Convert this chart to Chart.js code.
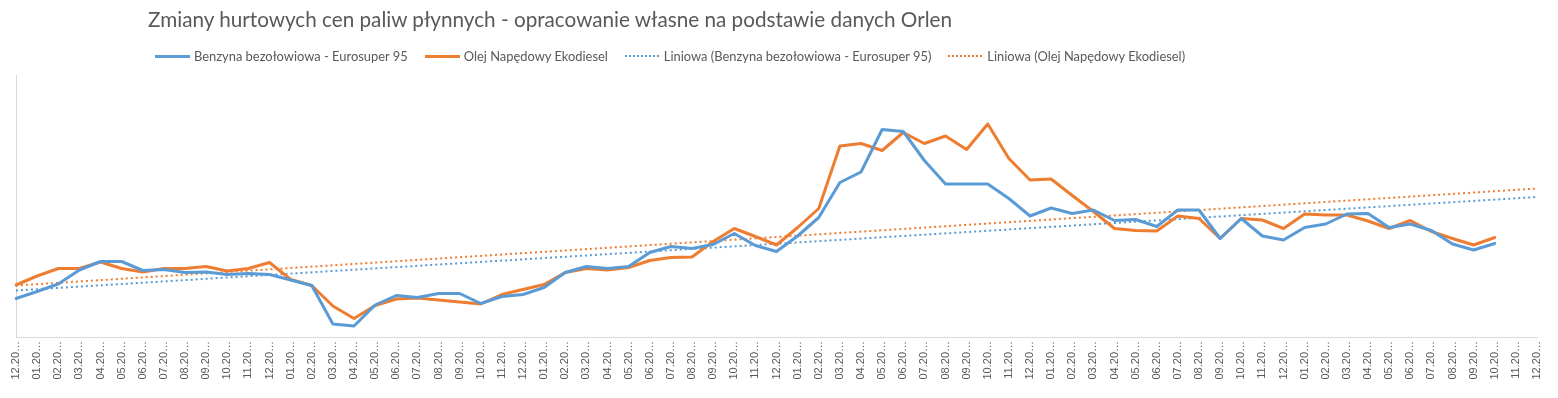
<!DOCTYPE html>
<html lang="pl">
<head>
<meta charset="utf-8">
<title>Zmiany hurtowych cen paliw płynnych</title>
<script src="https://cdn.jsdelivr.net/npm/chart.js@4/dist/chart.umd.min.js"></script>
<style>
    html, body { margin: 0; padding: 0; background: #fff; }
    #wrap { position: relative; width: 1558px; height: 398px; overflow: hidden; }
    #chart { position: absolute; left: 0; top: 0; }
    #title {
        position: absolute; left: 148px; top: 7px;
        font: 20.7px Lato, "Open Sans", sans-serif; color: #595959; white-space: nowrap;
    }
    #legend {
        position: absolute; left: 155px; top: 48px; display: flex; align-items: center;
        font: 12.9px Lato, "Open Sans", sans-serif; color: #595959; white-space: nowrap;
    }
    .item { display: flex; align-items: center; margin-right: 17px; }
    .swatch { width: 35px; height: 3px; margin-right: 4px; }
    .dots { height: 2px; }
</style>
</head>
<body>
<div id="wrap">
    <canvas id="chart" width="1558" height="398"></canvas>
    <div id="title">Zmiany hurtowych cen paliw płynnych - opracowanie własne na podstawie danych Orlen</div>
    <div id="legend"></div>
</div>
<script>
// months 12.2018 .. 12.2024 (Excel shows them cut to "12.20…")
const months = [
    '12.2018',
    '01.2019', '02.2019', '03.2019', '04.2019', '05.2019', '06.2019', '07.2019', '08.2019', '09.2019', '10.2019', '11.2019', '12.2019',
    '01.2020', '02.2020', '03.2020', '04.2020', '05.2020', '06.2020', '07.2020', '08.2020', '09.2020', '10.2020', '11.2020', '12.2020',
    '01.2021', '02.2021', '03.2021', '04.2021', '05.2021', '06.2021', '07.2021', '08.2021', '09.2021', '10.2021', '11.2021', '12.2021',
    '01.2022', '02.2022', '03.2022', '04.2022', '05.2022', '06.2022', '07.2022', '08.2022', '09.2022', '10.2022', '11.2022', '12.2022',
    '01.2023', '02.2023', '03.2023', '04.2023', '05.2023', '06.2023', '07.2023', '08.2023', '09.2023', '10.2023', '11.2023', '12.2023',
    '01.2024', '02.2024', '03.2024', '04.2024', '05.2024', '06.2024', '07.2024', '08.2024', '09.2024', '10.2024', '11.2024', '12.2024'
];

// zł/m3 (12.2018 .. 10.2024)
const benzyna = [
    3270, 3410, 3560, 3840, 4010, 4010, 3830, 3850, 3790, 3800, 3750, 3770, 3750,
    3640, 3530, 2760, 2720, 3140, 3330, 3290, 3370, 3370, 3170, 3310, 3350,
    3490, 3790, 3910, 3870, 3910, 4190, 4310, 4270, 4350, 4570, 4330, 4210,
    4520, 4890, 5590, 5800, 6650, 6610, 6030, 5560, 5560, 5560, 5270, 4920,
    5080, 4970, 5040, 4830, 4850, 4710, 5040, 5040, 4470, 4870, 4520, 4440,
    4690, 4760, 4960, 4970, 4690, 4760, 4630, 4360, 4240, 4370
];
const ekodiesel = [
    3540, 3720, 3870, 3870, 4000, 3870, 3800, 3870, 3870, 3910, 3820, 3870, 3990,
    3650, 3530, 3120, 2870, 3130, 3260, 3280, 3240, 3200, 3160, 3350, 3450,
    3550, 3790, 3870, 3840, 3890, 4030, 4090, 4100, 4410, 4670, 4510, 4340,
    4690, 5070, 6320, 6370, 6230, 6590, 6370, 6520, 6250, 6760, 6070, 5640,
    5660, 5330, 5010, 4670, 4630, 4620, 4920, 4870, 4470, 4870, 4840, 4670,
    4960, 4940, 4940, 4820, 4670, 4830, 4610, 4470, 4340, 4490
];

// linear trend lines: start (12.2018) and end (12.2024) values
const trendBenzyna = [3430, 5300];
const trendEkodiesel = [3530, 5470];

const yMin = 2500;
const yMax = 7740;

const BLUE = '#5B9BD5';
const ORANGE = '#ED7D31';

function trendSeries(ends) {
    const arr = months.map(() => null);
    arr[0] = ends[0];
    arr[months.length - 1] = ends[1];
    return arr;
}

const series = [
    { label: 'Benzyna bezołowiowa - Eurosuper 95', data: benzyna, color: BLUE, dotted: false },
    { label: 'Olej Napędowy Ekodiesel', data: ekodiesel, color: ORANGE, dotted: false },
    { label: 'Liniowa (Benzyna bezołowiowa - Eurosuper 95)', data: trendSeries(trendBenzyna), color: BLUE, dotted: true },
    { label: 'Liniowa (Olej Napędowy Ekodiesel)', data: trendSeries(trendEkodiesel), color: ORANGE, dotted: true }
];

// HTML legend (Excel style)
const legend = document.getElementById('legend');
series.forEach(s => {
    const item = document.createElement('div');
    item.className = 'item';
    const sw = document.createElement('span');
    sw.className = 'swatch' + (s.dotted ? ' dots' : '');
    sw.style.background = s.dotted
        ? `repeating-linear-gradient(90deg, ${s.color} 0 2px, transparent 2px 4px)`
        : s.color;
    item.appendChild(sw);
    const txt = document.createElement('span');
    txt.textContent = s.label;
    item.appendChild(txt);
    legend.appendChild(item);
});

const ctx = document.getElementById('chart').getContext('2d');
new Chart(ctx, {
    type: 'line',
    data: {
        labels: months,
        datasets: series.map(s => ({
            label: s.label,
            data: s.data,
            borderColor: s.color,
            backgroundColor: s.color,
            borderWidth: s.dotted ? 2 : 3,
            borderDash: s.dotted ? [2, 3] : [],
            borderCapStyle: s.dotted ? 'butt' : 'round',
            borderJoinStyle: 'round',
            tension: 0,
            pointRadius: 0,
            spanGaps: true,
            fill: false,
            order: s.dotted ? 2 : 1
        }))
    },
    options: {
        responsive: false,
        animation: false,
        devicePixelRatio: 1,
        layout: { padding: { top: 75, left: 16, right: 21, bottom: 0 } },
        plugins: {
            legend: { display: false },
            title: { display: false },
            tooltip: { enabled: false }
        },
        scales: {
            x: {
                offset: false,
                grid: { display: false, drawTicks: false },
                border: { display: true, color: '#d9d9d9', width: 1 },
                ticks: {
                    autoSkip: false,
                    maxRotation: 90,
                    minRotation: 90,
                    padding: 4,
                    color: '#595959',
                    font: { family: 'Liberation Sans', size: 11 },
                    callback: function (value) {
                        return this.getLabelForValue(value).slice(0, 5) + '…';
                    }
                },
                afterFit: scale => { scale.height = 61; }
            },
            y: {
                min: yMin,
                max: yMax,
                grid: { display: false, drawTicks: false },
                border: { display: true, color: '#d9d9d9', width: 1 },
                ticks: { display: false },
                afterFit: scale => { scale.width = 0; }
            }
        }
    }
});
</script>
</body>
</html>
